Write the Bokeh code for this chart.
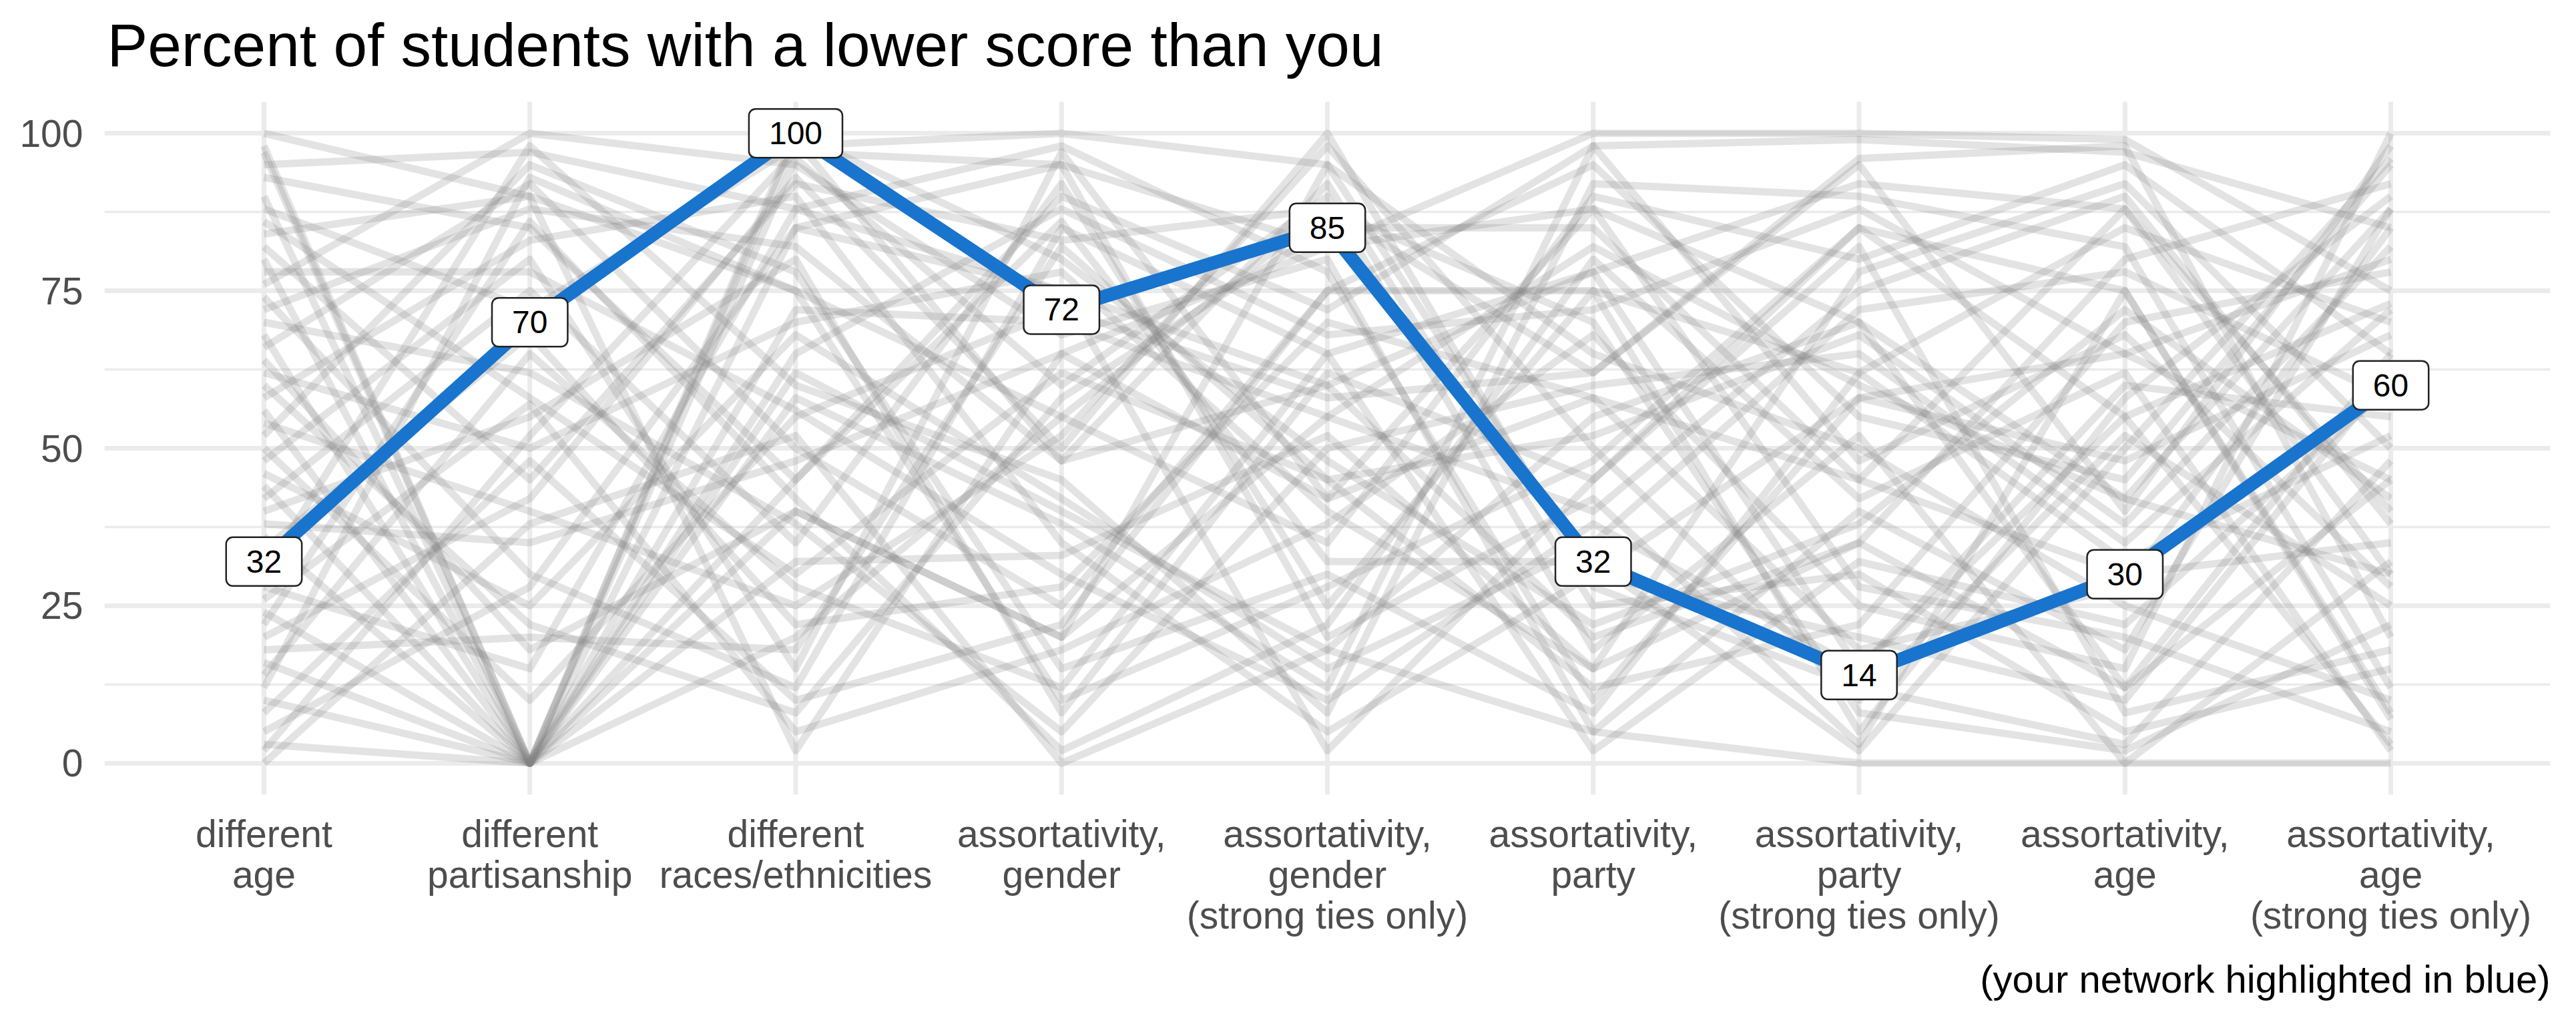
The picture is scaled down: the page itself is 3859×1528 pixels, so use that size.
from bokeh.plotting import figure
from bokeh.models import FixedTicker, Range1d, Title
from bokeh.core.properties import value
from bokeh.embed import file_html
from bokeh.resources import INLINE

title = "Percent of students with a lower score than you"
caption = "(your network highlighted in blue)"
categories = ["different\nage", "different\npartisanship", "different\nraces/ethnicities",
              "assortativity,\ngender", "assortativity,\ngender\n(strong ties only)",
              "assortativity,\nparty", "assortativity,\nparty\n(strong ties only)",
              "assortativity,\nage", "assortativity,\nage\n(strong ties only)"]
y_ticks = [0, 25, 50, 75, 100]

# other students (percentiles on each measure)
age = [98,95,93,90,88,86,84,82,80,78,76,74,72,70,68,66,62,60,58,56,54,52,50,48,46,44,42,40,38,36,34,30,28,26,24,22,20,18,16,14,12,10,8,5,3,2,0,100,97,64]
partisan = [0,97,85,0,72,58,90,45,0,78,100,30,88,62,0,92,50,22,83,0,40,95,10,80,25,0,75,55,35,0,68,98,15,57,0,86,42,20,0,65,93,0,48,28,0,52,38,90,0,18]
races = [62,88,45,40,98,30,75,92,20,56,95,12,82,38,85,50,70,8,90,65,25,78,55,15,68,96,35,80,48,100,22,60,88,5,72,42,93,18,58,28,75,45,10,85,32,97,52,2,99,40]
gender = [40,75,90,20,100,62,10,83,55,30,68,85,48,5,95,25,78,58,35,88,52,15,72,97,42,60,92,8,65,80,28,45,98,18,70,2,50,82,38,12,55,86,22,75,33,95,0,65,48,20]
gender_strong = [18,60,72,55,95,45,28,88,35,10,80,65,92,50,20,75,40,85,5,68,98,30,58,42,15,90,25,62,82,48,70,8,78,38,55,22,100,45,12,65,88,32,75,2,52,82,18,42,60,95]
party = [55,20,98,82,65,12,48,70,90,38,5,78,25,60,42,95,15,85,30,72,50,8,62,88,35,18,75,45,100,22,58,92,10,68,40,80,28,52,98,2,62,32,75,45,15,88,5,58,78,30]
party_strong = [70,35,99,60,50,22,85,8,80,15,40,92,30,65,3,55,78,45,20,88,10,62,95,28,72,52,5,82,100,38,18,90,58,25,75,42,12,68,48,32,96,2,62,85,35,70,0,45,15,58]
age_assort = [12,80,97,42,25,70,55,2,95,60,18,88,5,35,75,45,92,30,10,65,52,85,40,20,78,0,58,8,99,72,28,82,48,15,90,62,3,38,68,22,98,50,32,75,12,42,0,88,55,65]
age_strong = [45,92,85,30,10,78,3,22,65,55,88,40,15,72,8,95,50,35,62,80,25,70,98,5,58,32,90,18,75,42,85,12,68,100,38,2,48,82,28,60,20,96,52,7,65,88,0,30,73,45]

# your network
you = [32, 70, 100, 72, 85, 32, 14, 30, 60]

columns = [age, partisan, races, gender, gender_strong, party, party_strong, age_assort, age_strong]
xpos = list(range(1, len(categories) + 1))

FONT = "Liberation Sans"
Y_LO, Y_HI = -5, 105          # panel limits (ggplot expansion)
Y_TOP = Y_HI + 152 / 9.436    # extra room above the panel for the title

p = figure(width=3843, height=1524, x_range=Range1d(0.4, 9.6), y_range=Range1d(Y_LO, Y_TOP),
           output_backend="svg", toolbar_location=None,
           min_border_left=156, min_border_right=23, min_border_top=0, min_border_bottom=334)
p.outline_line_color = None
p.background_fill_color = "white"

p.add_layout(Title(text=caption, align="right", text_font=FONT,
                   text_font_size="58px", text_font_style="normal", text_color="black",
                   standoff=50), "below")

p.xaxis.ticker = FixedTicker(ticks=xpos)
p.xaxis.major_label_overrides = {x: c for x, c in zip(xpos, categories)}
p.yaxis.ticker = FixedTicker(ticks=y_ticks, minor_ticks=[12.5, 37.5, 62.5, 87.5])
for ax in (p.xaxis, p.yaxis):
    ax.axis_line_color = None
    ax.major_tick_line_color = None
    ax.minor_tick_line_color = None
    ax.major_label_text_font = FONT
    ax.major_label_text_font_size = "57px"
    ax.major_label_text_color = "#4d4d4d"
p.xaxis.major_label_text_line_height = 0.96
p.xaxis.major_label_standoff = 20
p.yaxis.major_label_standoff = 26

p.xgrid.grid_line_color = None
p.ygrid.grid_line_color = "#ebebeb"
p.ygrid.grid_line_width = 7
p.ygrid.minor_grid_line_color = "#ebebeb"
p.ygrid.minor_grid_line_width = 3.5
# vertical axis lines limited to the panel height
p.segment(x0=xpos, y0=[Y_LO] * len(xpos), x1=xpos, y1=[Y_HI] * len(xpos),
          line_color="#ebebeb", line_width=7)

rows = list(zip(*columns))
p.multi_line(xs=[xpos] * len(rows), ys=[list(r) for r in rows], line_color="#7f7f7f",
             line_alpha=0.22, line_width=11, line_join="round")

p.line(xpos, you, line_color="#1874CD", line_width=20, line_join="round")

p.text(x=xpos, y=you, text=[str(v) for v in you], text_font=value(FONT), text_font_size="48px",
       text_color="black", text_align="center", text_baseline="middle",
       background_fill_color="white", border_line_color="#222222", border_line_width=2.5,
       padding=(30, 20), border_radius=10)

p.text(x=[0.41], y=[Y_HI + 85 / 9.436], text=[title], text_font=value(FONT),
       text_font_size="91px", text_color="black", text_align="left", text_baseline="alphabetic")

open("out.html", "w").write(file_html(p, INLINE))
